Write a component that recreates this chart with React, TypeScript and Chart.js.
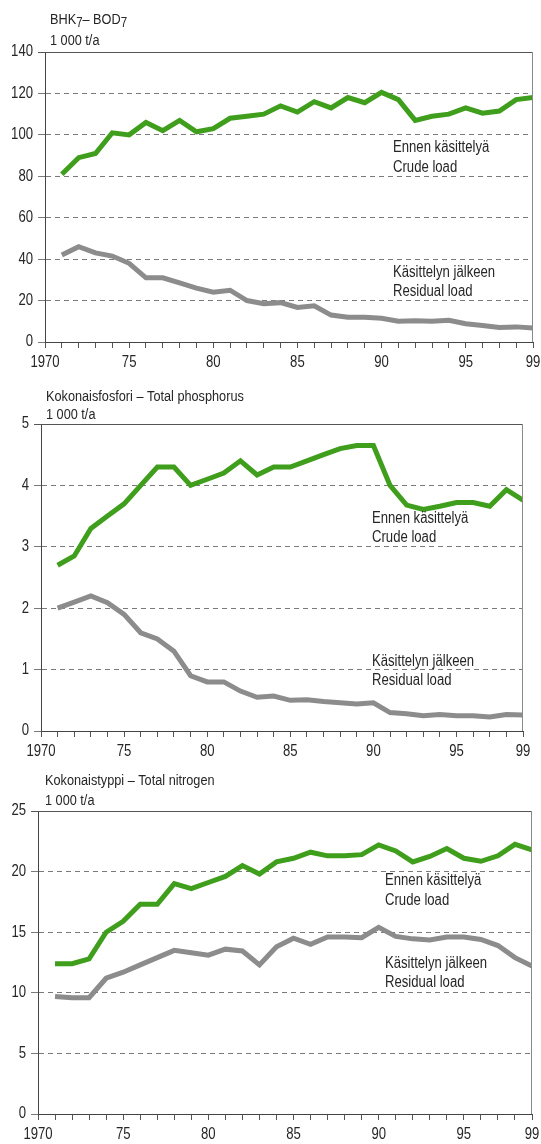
import React, { useEffect, useRef } from "react";
import { Chart, registerables } from "chart.js";

Chart.register(...registerables);

const FONT = "'Liberation Sans', Arial, 'DejaVu Sans', sans-serif";
const NARROW = 0.82; // horizontal condensing to mimic a narrow face

// ---- data ----
const years = [
  1971, 1972, 1973, 1974, 1975, 1976, 1977, 1978, 1979, 1980,
  1981, 1982, 1983, 1984, 1985, 1986, 1987, 1988, 1989, 1990,
  1991, 1992, 1993, 1994, 1995, 1996, 1997, 1998, 1999,
];

const xTickYears = [1970, 1975, 1980, 1985, 1990, 1995, 1999];
const xTickLabels = ["1970", "75", "80", "85", "90", "95", "99"];

const bodCrude = [
  81, 89, 91, 101, 100, 106, 102, 107, 101.5, 103,
  108, 109, 110, 114, 111, 116, 113, 118, 115.5, 120.5,
  117, 107, 109, 110, 113, 110.5, 111.5, 117, 118,
];
const bodResidual = [
  42, 46, 43, 41.5, 38, 31, 31, 28.5, 26, 24,
  25, 20, 18.5, 19, 16.7, 17.5, 13, 12, 12, 11.5,
  10, 10.3, 10, 10.5, 8.8, 8, 7, 7.3, 6.8,
];

const pCrude = [
  2.7, 2.85, 3.3, 3.5, 3.7, 4.0, 4.3, 4.3, 4.0, 4.1,
  4.2, 4.4, 4.17, 4.3, 4.3, 4.4, 4.5, 4.6, 4.65, 4.65,
  4.0, 3.68, 3.61, 3.66, 3.72, 3.72, 3.66, 3.93, 3.76,
];
const pResidual = [
  2.0, 2.1, 2.2, 2.09, 1.9, 1.6, 1.5, 1.3, 0.9, 0.8,
  0.8, 0.65, 0.55, 0.57, 0.5, 0.51, 0.48, 0.46, 0.44, 0.46,
  0.3, 0.28, 0.25, 0.27, 0.25, 0.25, 0.23, 0.27, 0.26,
];

const nCrude = [
  12.4, 12.4, 12.8, 15, 15.9, 17.3, 17.3, 19, 18.6, 19.1,
  19.6, 20.5, 19.8, 20.8, 21.1, 21.6, 21.3, 21.3, 21.4, 22.2,
  21.7, 20.8, 21.25, 21.9, 21.1, 20.85, 21.3, 22.25, 21.8,
];
const nResidual = [
  9.7, 9.6, 9.6, 11.2, 11.7, 12.3, 12.9, 13.5, 13.3, 13.1,
  13.6, 13.45, 12.3, 13.8, 14.5, 14.0, 14.6, 14.6, 14.55, 15.4,
  14.65, 14.45, 14.35, 14.6, 14.6, 14.4, 13.9, 12.9, 12.2,
];

const crudeLabel = ["Ennen käsittelyä", "Crude load"];
const residualLabel = ["Käsittelyn jälkeen", "Residual load"];
const unitLabel = "1 000 t/a";

// ---- layout ----
// a text line may consist of segments (for subscripts)
type Seg = { text: string; size: number; dy?: number };
type Txt = { segs: Seg[]; x: number; y: number };
type PanelCfg = {
  top: number;
  height: number;
  plotLeft: number;
  plotRight: number;
  plotTop: number;
  plotBottom: number;
  yMax: number;
  yStep: number;
  crude: number[];
  residual: number[];
  texts: Txt[];
};

const W = 541;
const T = (text: string, x: number, y: number, size = 16): Txt => ({
  segs: [{ text, size }],
  x,
  y,
});

const panels: PanelCfg[] = [
  {
    top: 0,
    height: 380,
    plotLeft: 45,
    plotRight: 533,
    plotTop: 52,
    plotBottom: 342,
    yMax: 140,
    yStep: 20,
    crude: bodCrude,
    residual: bodResidual,
    texts: [
      {
        segs: [
          { text: "BHK", size: 15.5 },
          { text: "7", size: 14, dy: 3 },
          { text: "– BOD", size: 15.5 },
          { text: "7", size: 14, dy: 3 },
        ],
        x: 50,
        y: 20,
      },
      T(unitLabel, 50, 41, 15.5),
      T(crudeLabel[0], 393, 148),
      T(crudeLabel[1], 393, 168),
      T(residualLabel[0], 393, 273),
      T(residualLabel[1], 393, 292),
    ],
  },
  {
    top: 380,
    height: 388,
    plotLeft: 41,
    plotRight: 523,
    plotTop: 44,
    plotBottom: 351,
    yMax: 5,
    yStep: 1,
    crude: pCrude,
    residual: pResidual,
    texts: [
      T("Kokonaisfosfori – Total phosphorus", 46, 17, 15.5),
      T(unitLabel, 46, 35, 15.5),
      T(crudeLabel[0], 372, 139),
      T(crudeLabel[1], 372, 158),
      T(residualLabel[0], 372, 282),
      T(residualLabel[1], 372, 301),
    ],
  },
  {
    top: 768,
    height: 376,
    plotLeft: 38,
    plotRight: 532,
    plotTop: 43,
    plotBottom: 346,
    yMax: 25,
    yStep: 5,
    crude: nCrude,
    residual: nResidual,
    texts: [
      T("Kokonaistyppi – Total nitrogen", 45, 13, 15.5),
      T(unitLabel, 45, 33, 15.5),
      T(crudeLabel[0], 385, 113),
      T(crudeLabel[1], 385, 133),
      T(residualLabel[0], 385, 196),
      T(residualLabel[1], 385, 215),
    ],
  },
];

const GREEN = "#3f9e1c";
const GREY = "#8c8c8c";
const TEXT = "#262626";
const TICK_SIZE = 16;

function drawNarrow(
  ctx: CanvasRenderingContext2D,
  text: string,
  x: number,
  y: number,
  size: number,
  align: CanvasTextAlign
) {
  ctx.save();
  ctx.font = `${size}px ${FONT}`;
  ctx.textAlign = align;
  ctx.textBaseline = "middle";
  ctx.translate(x, y);
  ctx.scale(NARROW, 1);
  ctx.fillText(text, 0, 0);
  const w = ctx.measureText(text).width * NARROW;
  ctx.restore();
  return w;
}

const decorPlugin = {
  id: "decor",
  afterDraw(chart: any, _args: any, opts: any) {
    const { ctx, chartArea: a } = chart;
    ctx.save();
    ctx.lineWidth = 1;
    ctx.strokeStyle = "#555555";
    ctx.beginPath();
    ctx.moveTo(a.left - 7, Math.round(a.top) + 0.5);
    ctx.lineTo(a.right, Math.round(a.top) + 0.5);
    ctx.stroke();
    ctx.strokeStyle = "#8a8a8a";
    ctx.beginPath();
    ctx.moveTo(Math.round(a.right) - 0.5, a.top);
    ctx.lineTo(Math.round(a.right) - 0.5, a.bottom);
    ctx.stroke();
    ctx.fillStyle = TEXT;

    // tick labels through the library's scales
    const xs = chart.scales.x;
    const ys = chart.scales.y;
    xTickYears.forEach((yr, i) => {
      drawNarrow(ctx, xTickLabels[i], xs.getPixelForValue(yr), a.bottom + 21, TICK_SIZE, "center");
    });
    ys.ticks.forEach((t: any) => {
      drawNarrow(ctx, String(t.value), a.left - 12, ys.getPixelForValue(t.value), TICK_SIZE, "right");
    });

    // titles and annotations
    for (const t of opts.texts as Txt[]) {
      let x = t.x;
      for (const s of t.segs) {
        x += drawNarrow(ctx, s.text, x, t.y + (s.dy || 0), s.size, "left");
      }
    }
    ctx.restore();
  },
};

function Panel({ cfg }: { cfg: PanelCfg }) {
  const ref = useRef<HTMLCanvasElement | null>(null);
  useEffect(() => {
    if (!ref.current) return;
    const toPts = (arr: number[]) => years.map((y, i) => ({ x: y, y: arr[i] }));
    const chart = new Chart(ref.current, {
      type: "line",
      data: {
        datasets: [
          {
            data: toPts(cfg.residual),
            borderColor: GREY,
            borderWidth: 5,
            pointRadius: 0,
            tension: 0,
            fill: false,
          },
          {
            data: toPts(cfg.crude),
            borderColor: GREEN,
            borderWidth: 5,
            pointRadius: 0,
            tension: 0,
            fill: false,
          },
        ],
      },
      options: {
        animation: false,
        responsive: false,
        devicePixelRatio: 1,
        layout: {
          padding: { left: 0, right: W - cfg.plotRight, top: cfg.plotTop, bottom: 0 },
        },
        plugins: {
          legend: { display: false },
          tooltip: { enabled: false },
          decor: { texts: cfg.texts },
        } as any,
        scales: {
          x: {
            type: "linear",
            min: 1970,
            max: 1999,
            afterFit: (s: any) => {
              s.height = cfg.height - cfg.plotBottom;
            },
            ticks: {
              display: false,
              stepSize: 1,
              autoSkip: false,
              maxRotation: 0,
            },
            grid: {
              drawOnChartArea: false,
              drawTicks: true,
              tickLength: 6,
              tickColor: "#555555",
              color: "#555555",
            },
            border: { display: true, color: "#444444", width: 1 },
          },
          y: {
            min: 0,
            max: cfg.yMax,
            afterFit: (s: any) => {
              s.width = cfg.plotLeft;
            },
            ticks: {
              display: false,
              stepSize: cfg.yStep,
            },
            grid: {
              color: "#7a7a7a",
              lineWidth: 1,
              drawTicks: true,
              tickLength: 7,
              tickColor: "#7a7a7a",
            },
            border: { display: true, color: "#444444", width: 1, dash: [5, 4] },
          },
        },
      },
      plugins: [decorPlugin],
    } as any);
    return () => chart.destroy();
  }, [cfg]);
  return (
    <canvas
      ref={ref}
      width={W}
      height={cfg.height}
      style={{
        position: "absolute",
        left: 0,
        top: cfg.top,
        width: W,
        height: cfg.height,
        display: "block",
      }}
    />
  );
}

export default function App() {
  return (
    <div
      style={{
        position: "absolute",
        left: 0,
        top: 0,
        width: W,
        height: 1144,
        background: "#ffffff",
        overflow: "hidden",
      }}
    >
      {panels.map((p, i) => (
        <Panel key={i} cfg={p} />
      ))}
    </div>
  );
}
